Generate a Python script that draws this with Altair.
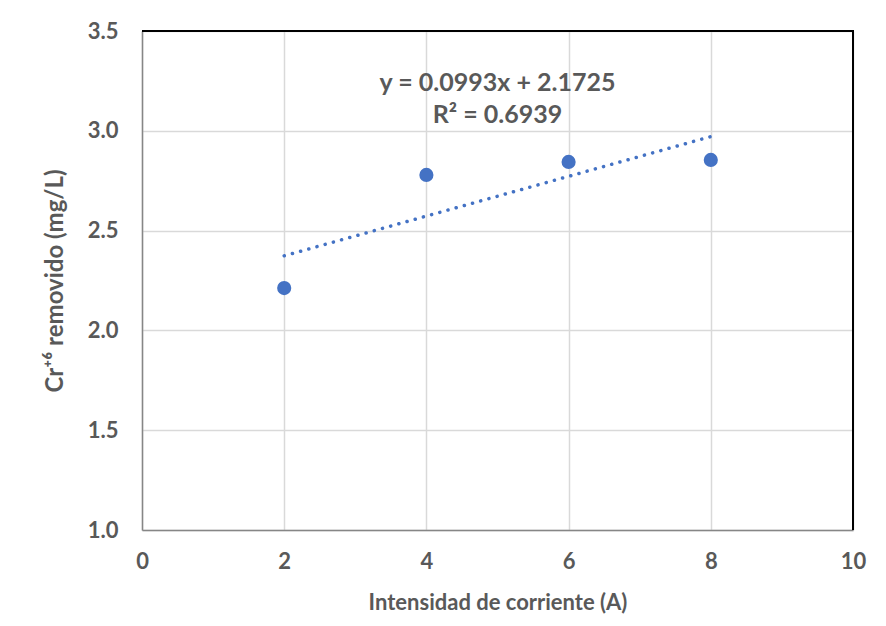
import altair as alt
import pandas as pd

# Data
corriente = [2, 4, 6, 8]
cr_removido = [2.212, 2.779, 2.844, 2.854]
ecuacion = ["y = 0.0993x + 2.1725", "R² = 0.6939"]
ecuacion_x = [5, 5]
ecuacion_y = [3.24, 3.08]

# Frame of the plot area (top and right edges), in data units
borde_x = [0, 10, 10]
borde_y = [3.5, 3.5, 1.0]

df = pd.DataFrame({"x": corriente, "y": cr_removido})
df_txt = pd.DataFrame({"x": ecuacion_x, "y": ecuacion_y, "t": ecuacion})
df_border = pd.DataFrame({"x": borde_x, "y": borde_y, "o": [0, 1, 2]})

BLUE = "#4472C4"
GRAY = "#595959"
FONT = "Lato"

xs = alt.Scale(domain=[0, 10], nice=False)
ys = alt.Scale(domain=[1.0, 3.5], nice=False, zero=False)

xaxis = alt.Axis(values=[0, 2, 4, 6, 8, 10], format="d", title="Intensidad de corriente (A)",
                 labelFont=FONT, labelFontSize=22, labelFontWeight="bold", labelColor=GRAY,
                 titleFont=FONT, titleFontSize=22, titleFontWeight="bold", titleColor=GRAY,
                 ticks=False, labelPadding=21, titlePadding=20, labelFlush=False,
                 domainColor="#868686", domainWidth=1.5,
                 gridColor="#d9d9d9", gridWidth=1.5)
yaxis = alt.Axis(values=[1.0, 1.5, 2.0, 2.5, 3.0, 3.5], format=".1f", title="Cr⁺⁶ removido (mg/L)",
                 labelFont=FONT, labelFontSize=22, labelFontWeight="bold", labelColor=GRAY,
                 titleFont=FONT, titleFontSize=24, titleFontWeight="bold", titleColor=GRAY,
                 ticks=False, labelPadding=24, titlePadding=20, labelFlush=False,
                 domainColor="#868686", domainWidth=1.5,
                 gridColor="#d9d9d9", gridWidth=1.5)

base = alt.Chart(df)

border = alt.Chart(df_border).mark_line(color="black", strokeWidth=2).encode(
    x=alt.X("x:Q", scale=xs, axis=xaxis),
    y=alt.Y("y:Q", scale=ys, axis=yaxis),
    order="o:Q",
)

points = base.mark_circle(size=200, color=BLUE, opacity=1).encode(
    x=alt.X("x:Q", scale=xs),
    y=alt.Y("y:Q", scale=ys),
)

trend = base.transform_regression("x", "y", extent=[2, 8]).mark_line(
    color=BLUE, strokeWidth=3.5, strokeCap="round", strokeDash=[0.1, 8.4]
).encode(x=alt.X("x:Q", scale=xs), y=alt.Y("y:Q", scale=ys))

text = alt.Chart(df_txt).mark_text(
    font=FONT, fontSize=25, fontWeight="bold", color=GRAY, align="center", baseline="middle"
).encode(x=alt.X("x:Q", scale=xs), y=alt.Y("y:Q", scale=ys), text="t:N")

chart = alt.layer(border, trend, points, text).properties(
    width=711, height=499,
    autosize=alt.AutoSizeParams(type="none"),
    padding={"left": 134, "top": 23, "right": 20, "bottom": 88},
).configure_view(stroke=None)

chart.save("out.html", embed_options={"renderer": "svg", "actions": False})
